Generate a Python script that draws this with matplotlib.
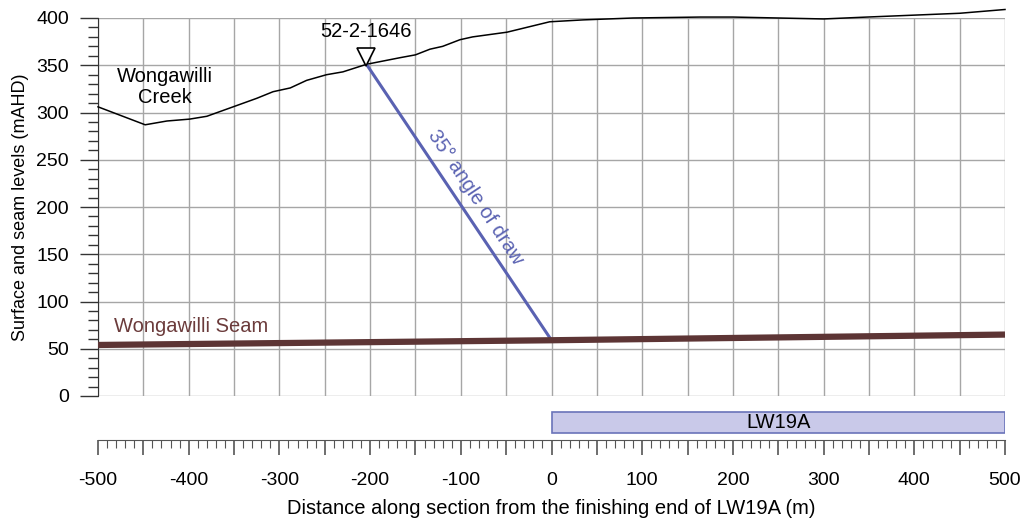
import numpy as np
import matplotlib.pyplot as plt
from matplotlib.ticker import MultipleLocator, FuncFormatter

plt.rcParams['font.family'] = ['Liberation Sans', 'DejaVu Sans']

# ground surface along the section
profile_x = [-500, -448, -424, -399, -380, -351, -325, -307, -288, -270, -248, -230,
             -204, -167, -150, -134, -120, -101, -87, -49, -2, 35, 90, 164, 200,
             250, 300, 348, 399, 450, 500]
profile_y = [306, 287, 291, 293, 296, 306, 315, 322, 326, 334, 340, 343,
             351, 358, 361, 367, 370, 377, 380, 385, 396, 398, 400, 401, 401,
             400, 399, 401, 403, 405, 409]

# Wongawilli Seam floor
seam_x = [-500, 0, 500]
seam_y = [54, 59, 65]

# borehole and angle of draw
bore_name = '52-2-1646'
bore_x = -204
bore_y = 351
draw_angle = 35

# longwall extent
lw_name = 'LW19A'
lw_start = 0
lw_end = 500

fig = plt.figure(figsize=(10.24, 5.23), dpi=100)
ax = fig.add_axes([98 / 1024, 1 - 396 / 523, 907 / 1024, 378 / 523])
ax2 = fig.add_axes([98 / 1024, 1 - 440 / 523, 907 / 1024, 35 / 523], sharex=ax)

grid_col = '#a6a6a6'
for gx in np.arange(-500, 501, 50):
    ax.axvline(gx, color=grid_col, lw=1.0, zorder=1)
for gy in np.arange(0, 401, 50):
    ax.axhline(gy, color=grid_col, lw=1.0, zorder=1)

ax.plot(profile_x, profile_y, color='black', lw=1.1, zorder=3, clip_on=False)
ax.plot(seam_x, seam_y, color='#5d3535', lw=4.5, zorder=4, solid_capstyle='butt')

seam_at_lw = np.interp(lw_start, seam_x, seam_y)
ax.plot([lw_start, bore_x], [seam_at_lw, bore_y], color='#5a62b2', lw=2.2, zorder=3)

ax.plot([bore_x], [bore_y + 8], marker='v', ms=13, mfc='white', mec='black', mew=1.2,
        zorder=5, clip_on=False, linestyle='none')
ax.text(bore_x, 386, bore_name, ha='center', va='center', fontsize=14.5, zorder=6)

ax.text(-426, 327, 'Wongawilli\nCreek', ha='center', va='center', fontsize=14.5,
        linespacing=1.1)
ax.text(-482, 74, 'Wongawilli Seam', ha='left', va='center', fontsize=14.5, color='#6b3b3b')

mid_x = (lw_start + bore_x) / 2 + 18
mid_y = (seam_at_lw + bore_y) / 2 + 5
ax.text(mid_x, mid_y, '%d\u00b0 angle of draw' % draw_angle, rotation=-56.4,
        rotation_mode='anchor', ha='center', va='center', fontsize=14.5, color='#5a62b2')

ax.set_xlim(-500, 500)
ax.set_ylim(0, 400)
for s in ['top', 'right', 'bottom']:
    ax.spines[s].set_visible(False)
ax.spines['left'].set_color('#333333')
ax.yaxis.set_major_locator(MultipleLocator(50))
ax.yaxis.set_minor_locator(MultipleLocator(10))
ax.tick_params(axis='y', which='major', length=13, width=1, color='#333333', labelsize=14, pad=8)
ax.tick_params(axis='y', which='minor', length=7, width=1, color='#333333')
ax.tick_params(axis='x', which='both', bottom=False, labelbottom=False)
ax.set_ylabel('Surface and seam levels (mAHD)', fontsize=13, labelpad=5)

# longwall panel bar and distance axis
ax2.barh([0.5], [lw_end - lw_start], left=lw_start, height=0.6, color='#c9c9e9',
         edgecolor='#6a73b9', linewidth=1.2)
ax2.text((lw_start + lw_end) / 2, 0.5, lw_name, ha='center', va='center', fontsize=14.5)
ax2.set_ylim(0, 1)
ax2.set_yticks([])
for s in ['top', 'right', 'left']:
    ax2.spines[s].set_visible(False)
ax2.spines['bottom'].set_color('#555555')
ax2.xaxis.set_major_locator(MultipleLocator(50))
ax2.xaxis.set_minor_locator(MultipleLocator(10))
ax2.xaxis.set_major_formatter(FuncFormatter(lambda v, p: '%d' % v if round(v) % 100 == 0 else ''))
ax2.tick_params(axis='x', which='major', length=11, width=1.2, color='#555555', labelsize=14, pad=12)
ax2.tick_params(axis='x', which='minor', length=6, width=0.8, color='#555555')
ax2.set_xlabel('Distance along section from the finishing end of LW19A (m)', fontsize=14.5, labelpad=7)

fig.savefig('out.png', dpi=100)
